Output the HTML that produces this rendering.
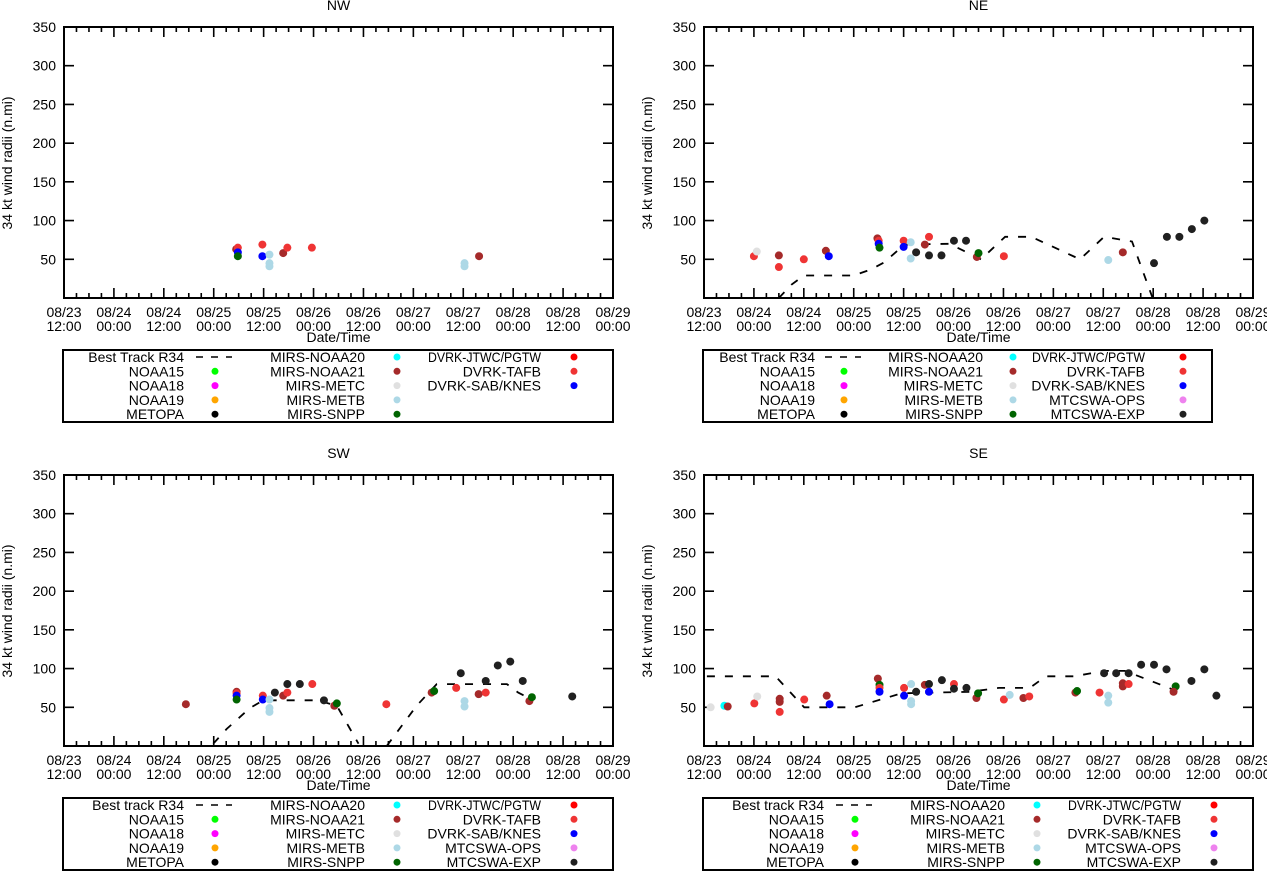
<!DOCTYPE html>
<html><head><meta charset="utf-8"><title>34 kt wind radii</title>
<style>
html,body{margin:0;padding:0;background:#fff;}
svg{display:block;font-family:"Liberation Sans",Arial,sans-serif;}
</style></head>
<body>
<svg id="chart" xmlns="http://www.w3.org/2000/svg" width="1267" height="871" viewBox="0 0 1267 871"></svg>
<script>
// Hours since 08/23 12:00
const tickLabels1 = ["08/23","08/24","08/24","08/25","08/25","08/26","08/26","08/27","08/27","08/28","08/28","08/29"];
const tickLabels2 = ["12:00","00:00","12:00","00:00","12:00","00:00","12:00","00:00","12:00","00:00","12:00","00:00"];
const yTicks = [50,100,150,200,250,300,350];

const seriesNames = ["NOAA15","NOAA18","NOAA19","METOPA","MIRS-NOAA20","MIRS-NOAA21","MIRS-METC","MIRS-METB","MIRS-SNPP","DVRK-JTWC/PGTW","DVRK-TAFB","DVRK-SAB/KNES","MTCSWA-OPS","MTCSWA-EXP"];
const seriesColors = ["#00ff00","#ff00ff","#ffa500","#000000","#00ffff","#a52a2a","#e0e0e0","#add8e6","#006400","#ff0000","#ef3434","#0000ff","#ee82ee","#202020"];

// NW
const nwHours  = [41.4,41.8,41.8,41.8,47.7,47.7,49.4,49.4,49.4,52.7,53.7,59.6,96.3,96.3,99.8];
const nwValues = [63,65,59,54,69,54,56,45,41,58,65,65,45,41,54];
const nwSeries = [5,10,11,8,10,11,7,7,7,5,10,10,7,7,5];
const nwBtHours = [];
const nwBtValues = [];

// NE
const neHours  = [12,12.7,18,18,24,29.3,30,41.7,42,42,42.2,48,48,49.7,49.7,51,53.1,54.1,54.1,57.1,60.1,63,65.6,66,72.1,97.2,100.7,108.2,111.3,114.3,117.3,120.3];
const neValues = [54,60,55,40,50,61,54,77,74,70,65,74,66,72,51,59,69,79,55,55,74,74,53,58,54,49,59,45,79,79,89,100];
const neSeries = [10,6,5,10,10,5,11,5,10,11,8,10,11,7,7,13,5,10,13,13,13,13,5,8,10,7,5,13,13,13,13,13];
const neBtHours  = [18,21,24,36,40.2,43.3,46.5,48.1,59,66.6,72.4,78.7,90.4,96.2,102.9,107.8];
const neBtValues = [0,17,29,29,37,46,61,69,70,50,79,79,50,79,73,1];

// SW
const swHours  = [29.3,41.5,41.5,41.5,41.5,47.8,47.8,49.4,49.4,49.4,50.7,52.7,53.7,53.7,56.7,59.7,62.5,65,65.6,77.5,88.4,89,95.4,94.3,96.3,96.3,99.7,101.4,101.4,104.3,107.3,110.3,111.9,112.5,122.2];
const swValues = [54,70,68,65,60,65,60,60,49,44,69,65,69,80,80,80,59,52,55,54,69,71,94,75,58,51,67,69,84,104,109,84,58,63,64];
const swSeries = [5,5,10,11,8,10,11,7,7,7,13,5,10,13,13,10,13,5,8,10,5,8,13,10,7,7,5,10,13,13,13,13,5,8,13];
const swBtHours  = [35.9,39.1,44.7,47.9,60.8,65.6,70.8,null,77.6,84.8,89.6,106.5,109.2,112.5];
const swBtValues = [3,22,49,59,59,52,3,null,0,52,80,80,69,60];

// SE
const seHours  = [1.6,4.9,5.7,12.1,12.8,18.2,18.2,18.2,24.1,29.5,30.2,41.8,42.2,42.2,42.2,48.1,48.1,49.8,49.8,49.8,51,53.1,54.1,54.1,57.2,60.1,60.1,63.1,65.5,65.9,72.1,73.5,76.8,78.2,89.3,89.7,95.1,97.2,97.2,96.2,99.1,100.7,100.7,102.1,102.1,105.1,108.2,111.2,113.4,112.9,117.2,120.3,123.2];
const seValues = [50,52,51,55,64,61,57,44,60,65,54,87,79,75,70,75,65,80,58,54,70,79,80,70,85,80,74,75,62,68,60,66,62,64,69,71,69,65,56,94,94,81,77,80,94,105,105,99,77,70,84,99,65];
const seSeries = [6,4,5,10,6,5,5,10,10,5,11,5,8,10,11,10,11,7,7,7,13,5,13,11,13,10,13,13,5,8,10,7,5,10,5,8,10,7,7,13,13,5,5,10,13,13,13,13,8,5,13,13,13];
const seBtHours  = [0.7,17.2,24.1,36.2,47.5,64,70.9,78.3,82.2,89.1,96,101.2,114.2];
const seBtValues = [90,90,50,50,68,70,75,75,90,90,97,97,70];

const NS = "http://www.w3.org/2000/svg";
const svg = document.getElementById("chart");
function mk(tag, attrs, parent, text){
  const e = document.createElementNS(NS, tag);
  for (const k in attrs) e.setAttribute(k, attrs[k]);
  if (text !== undefined) e.textContent = text;
  (parent || svg).appendChild(e);
  return e;
}

const PW = 549, PH = 271, HMAX = 132, VMAX = 350;

function drawPanel(key, title, ox, oy, hours, values, series, btH, btV, legend){
  const g = mk("g", {});
  
  
  const xs = h => ox + h / HMAX * PW;
  const ys = v => oy + PH - v / VMAX * PH;

  const t = mk("text", {x: ox + PW/2, y: oy - 17, "text-anchor": "middle", "font-size": 14}, g, title);
  
  

  for (let i = 0; i <= 44; i++) {
    const x = ox + i * PW / 44;
    const len = (i % 4 === 0) ? 10 : 5;
    const tk = mk("path", {d: `M${x},${oy+PH}v${-len}M${x},${oy}v${len}`, stroke: "#000", "stroke-width": 1.6, fill: "none"}, g);
    
    
  }
  for (let i = 0; i < tickLabels1.length; i++) {
    const x = xs(i * 12);
    const l1 = mk("text", {x: x, y: oy + PH + 19, "text-anchor": "middle", "font-size": 14}, g, tickLabels1[i]);
    
    
    const l2 = mk("text", {x: x, y: oy + PH + 33, "text-anchor": "middle", "font-size": 14}, g, tickLabels2[i]);
    
    
  }
  for (const v of yTicks) {
    const y = ys(v);
    const tk = mk("path", {d: `M${ox},${y}h10M${ox+PW},${y}h-10`, stroke: "#000", "stroke-width": 1.6}, g);
    
    
    const tl = mk("text", {x: ox - 8, y: y + 5, "text-anchor": "end", "font-size": 14}, g, String(v));
    
    
  }
  const xt = mk("text", {x: ox + PW/2, y: oy + PH + 44, "text-anchor": "middle", "font-size": 14}, g, "Date/Time");
  
  
  const yt = mk("text", {x: 0, y: 0, "text-anchor": "middle", "font-size": 14, transform: `translate(${ox-52},${oy+136}) rotate(-90)`}, g, "34 kt wind radii (n.mi)");
  
  

  let d = "", pen = false;
  for (let i = 0; i < btH.length; i++) {
    if (btH[i] === null) { pen = false; continue; }
    d += (pen ? "L" : "M") + xs(btH[i]).toFixed(1) + "," + ys(btV[i]).toFixed(1);
    pen = true;
  }
  if (d) {
    const bt = mk("path", {d: d, stroke: "#000", "stroke-width": 1.8, fill: "none", "stroke-dasharray": "8,10"}, g);
    
    
  }
  for (let i = 0; i < hours.length; i++) {
    const c = mk("circle", {cx: xs(hours[i]), cy: ys(values[i]), r: 4, fill: seriesColors[series[i]]}, g);
    
    
  }
  const fr = mk("rect", {x: ox, y: oy, width: PW, height: PH, fill: "none", stroke: "#000", "stroke-width": 2}, g);
  
  

  const lg = mk("g", {}, g);
  
  
  const ly = oy + 323;
  const lb = mk("rect", {x: ox - 1, y: ly, width: legend.w, height: 72, fill: "none", stroke: "#000", "stroke-width": 2}, lg);
  
  
  legend.cols.forEach((col, ci) => {
    col.forEach((name, ri) => {
      const cy = ly + 7 + ri * 14.3;
      const tx = ox - 1 + legend.tx[ci];
      const sx = ox - 1 + legend.sx[ci];
      const attrs = {x: tx, y: cy + 5, "text-anchor": "end", "font-size": 14};
      if (name === "DVRK-JTWC/PGTW") { attrs.textLength = 113; attrs.lengthAdjust = "spacingAndGlyphs"; }
      const lt = mk("text", attrs, lg, name);
      
      
      if (ci === 0 && ri === 0) {
        const dl = mk("path", {d: `M${sx-19},${cy}h36`, stroke: "#000", "stroke-width": 1.6, "stroke-dasharray": "7,8"}, lg);
        
        
      } else {
        const idx = seriesNames.indexOf(name);
        const dc = mk("circle", {cx: sx, cy: cy, r: 3.5, fill: seriesColors[idx]}, lg);
        
        
      }
    });
  });
}

const colA = ["NOAA15","NOAA18","NOAA19","METOPA"];
const colB = ["MIRS-NOAA20","MIRS-NOAA21","MIRS-METC","MIRS-METB","MIRS-SNPP"];
const colC5 = ["DVRK-JTWC/PGTW","DVRK-TAFB","DVRK-SAB/KNES","MTCSWA-OPS","MTCSWA-EXP"];
const wideLegendTx = [121, 302, 478], wideLegendSx = [152, 334, 511];

drawPanel("nw", "NW", 64, 27, nwHours, nwValues, nwSeries, nwBtHours, nwBtValues,
  {w: 550, tx: wideLegendTx, sx: wideLegendSx, cols: [["Best Track R34"].concat(colA), colB, ["DVRK-JTWC/PGTW","DVRK-TAFB","DVRK-SAB/KNES"]]});
drawPanel("ne", "NE", 704, 27, neHours, neValues, neSeries, neBtHours, neBtValues,
  {w: 509, tx: [112, 280, 442], sx: [141, 310, 480], cols: [["Best Track R34"].concat(colA), colB, colC5]});
drawPanel("sw", "SW", 64, 475, swHours, swValues, swSeries, swBtHours, swBtValues,
  {w: 550, tx: wideLegendTx, sx: wideLegendSx, cols: [["Best track R34"].concat(colA), colB, colC5]});
drawPanel("se", "SE", 704, 475, seHours, seValues, seSeries, seBtHours, seBtValues,
  {w: 550, tx: wideLegendTx, sx: wideLegendSx, cols: [["Best track R34"].concat(colA), colB, colC5]});
</script>
</body></html>
